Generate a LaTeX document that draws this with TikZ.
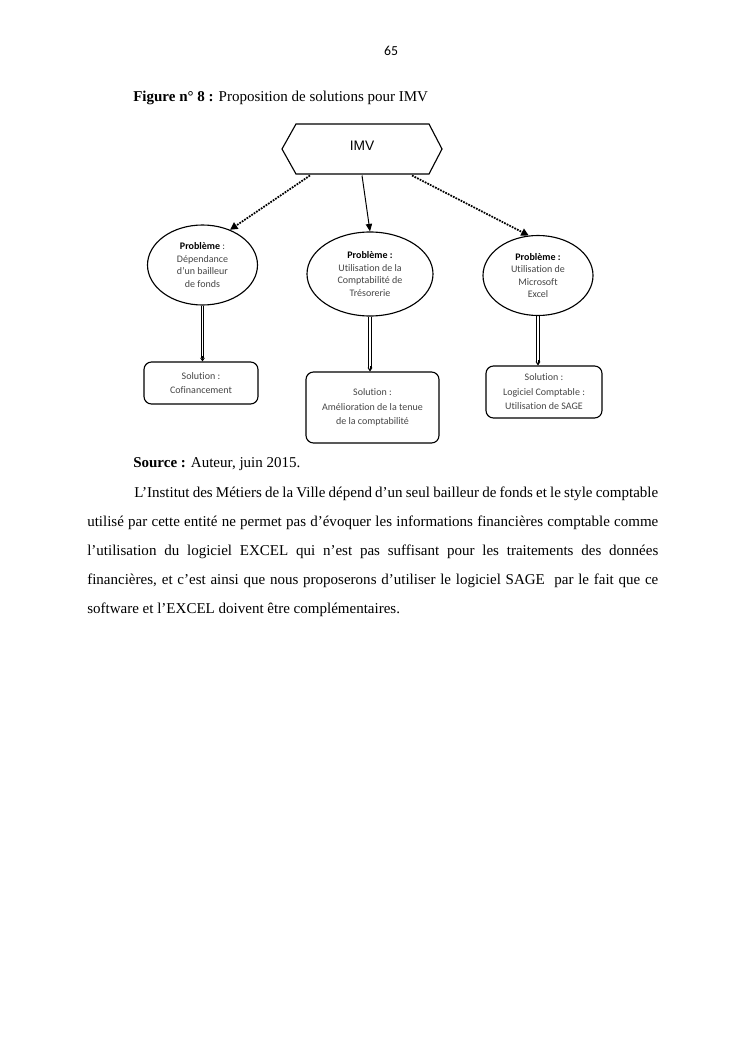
\documentclass[tikz,border=0pt]{standalone}
\usepackage{fontspec}
\setmainfont{Liberation Serif}
\newfontfamily\calfont[Ligatures=NoCommon]{Carlito}
\newfontfamily\arialfont{Liberation Sans}
\usetikzlibrary{shapes.geometric,arrows.meta,calc}
\definecolor{txtgray}{RGB}{70,70,70}
\def\pxu{0.79903pt}
\begin{document}
\begin{tikzpicture}[x=0.79903pt,y=-0.79903pt,
  probleme/.style={ellipse,draw,line width=0.9pt,inner sep=0pt,align=center,
    font=\calfont\fontsize{8}{9.9}\selectfont,text=txtgray},
  solbox/.style={draw,rounded corners=6pt,line width=0.9pt,align=center,inner sep=0pt,
    font=\calfont\fontsize{8}{11.6}\selectfont,text=txtgray},
  dotarrow/.style={line width=1.4pt,dash pattern=on 1.4pt off 0.9pt,
    -{Triangle[length=6pt,width=6pt]}},
  solidarrow/.style={line width=0.8pt,-{Triangle[length=6pt,width=5pt]}},
  dblline/.style={draw=none,
    postaction={draw,line width=0.7pt,transform canvas={xshift=-1pt}},
    postaction={draw,line width=0.7pt,transform canvas={xshift=1pt}}},
  dbltip/.style={line width=0.5pt,-{Stealth[length=3pt,width=4pt]}},
  bodytext/.style={anchor=base west,inner sep=0pt,font=\fontsize{12}{14}\selectfont},
  pagenum/.style={anchor=base,inner sep=0pt,font=\calfont\fontsize{11}{13}\selectfont}
]
\useasboundingbox[fill=white] (0,0) rectangle (745,1053);

% page number and title
\node[pagenum] (pn) at (391,56) {65};
\node[bodytext] (title) at (133,102) {\textbf{Figure n° 8 :} Proposition de solutions pour IMV};

% IMV hexagon
\draw[line width=0.9pt] (282,149) -- (296,124) -- (429,124) -- (442,149) -- (429,174) -- (296,174) -- cycle;
\node[font=\arialfont\fontsize{11}{13}\selectfont,inner sep=0pt] (imv) at (362,146) {IMV};
\coordinate (imvL) at (310,175.5);
\coordinate (imvM) at (362,175.5);
\coordinate (imvR) at (412,175.5);

% problems
\node[probleme,minimum width=110*\pxu,minimum height=80*\pxu] (p1) at (202.5,265)
  {\textcolor{black}{\textbf{Problème}} :\\Dépendance\\d’un bailleur\\de fonds};
\node[probleme,minimum width=126*\pxu,minimum height=84*\pxu] (p2) at (370,274)
  {\textcolor{black}{\textbf{Problème :}}\\Utilisation de la\\Comptabilité de\\Trésorerie};
\node[probleme,minimum width=110*\pxu,minimum height=80*\pxu] (p3) at (538,275.5)
  {\textcolor{black}{\textbf{Problème :}}\\Utilisation de\\Microsoft\\Excel};

% solutions
\node[solbox,minimum width=114*\pxu,minimum height=42*\pxu] (s1) at (201,383)
  {Solution :\\Cofinancement};
\node[solbox,minimum width=133*\pxu,minimum height=71*\pxu] (s2) at (372.5,407.5)
  {Solution :\\Amélioration de la tenue\\de la comptabilité};
\node[solbox,minimum width=116*\pxu,minimum height=52*\pxu] (s3) at (544,392)
  {Solution :\\Logiciel Comptable :\\Utilisation de SAGE};

% connectors
\draw[dotarrow] (imvL) -- (p1.52);
\draw[solidarrow] (imvM) -- (p2.north);
\draw[dotarrow] (imvR) -- (p3.103);

\coordinate (e1) at (p1.south |- s1.north);
\coordinate (e2) at (p2.south |- s2.north);
\coordinate (e3) at (p3.south |- s3.north);
\path[dblline] (p1.south) -- ($(e1)+(0,-3)$);
\path[dblline] (p2.south) -- ($(e2)+(0,-3)$);
\path[dblline] (p3.south) -- ($(e3)+(0,-3)$);
\draw[dbltip] ($(e1)+(0,-5)$) -- (e1);
\draw[dbltip] ($(e2)+(0,-5)$) -- (e2);
\draw[dbltip] ($(e3)+(0,-5)$) -- (e3);

% text below
\node[bodytext] (src) at (133,467) {\textbf{Source :} Auteur, juin 2015.};
\node[bodytext] (l1) at (134,497) {\makebox[418.7pt][s]{L’Institut des Métiers de la Ville dépend d’un seul bailleur de fonds et le style comptable}};
\node[bodytext] (l2) at (87,526) {\makebox[456.3pt][s]{utilisé par cette entité ne permet pas d’évoquer les informations financières comptable comme}};
\node[bodytext] (l3) at (87,555) {\makebox[456.3pt][s]{l’utilisation du logiciel EXCEL qui n’est pas suffisant pour les traitements des données}};
\node[bodytext] (l4) at (87,584) {\makebox[456.3pt][s]{financières, et c’est ainsi que nous proposerons d’utiliser le logiciel SAGE\ \ par le fait que ce}};
\node[bodytext] (l5) at (87,613) {software et l’EXCEL doivent être complémentaires.};
\end{tikzpicture}
\end{document}
